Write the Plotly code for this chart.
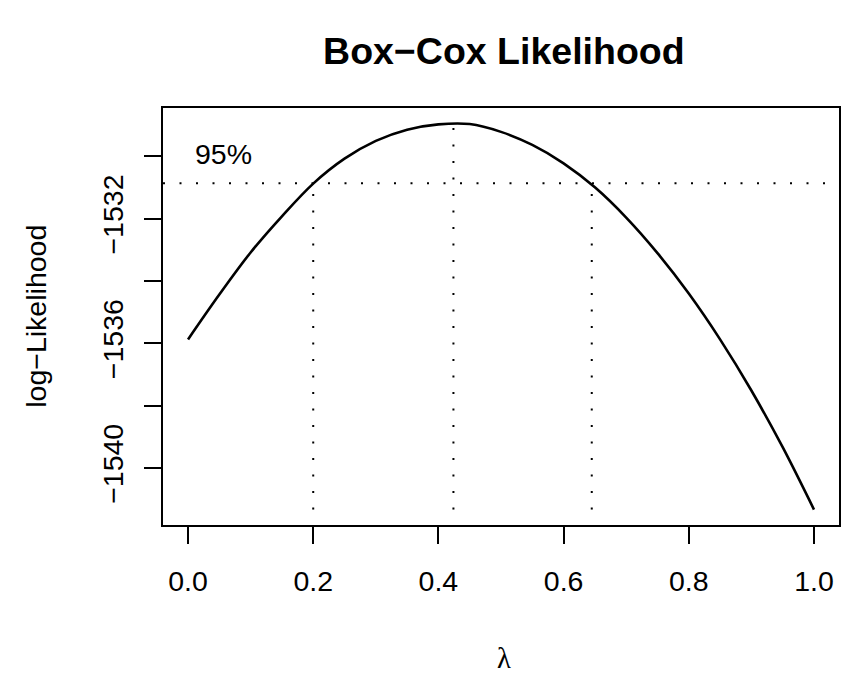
import plotly.graph_objects as go

# ---- data ----
lam = [0.00, 0.05, 0.10, 0.15, 0.20, 0.25, 0.30, 0.35, 0.40, 0.45,
       0.50, 0.55, 0.60, 0.65, 0.70, 0.75, 0.80, 0.85, 0.90, 0.95, 1.00]
loglik = [-1535.87, -1534.43, -1533.08, -1531.92, -1530.87, -1530.07, -1529.50,
          -1529.14, -1528.97, -1528.96, -1529.21, -1529.63, -1530.22, -1530.99,
          -1531.96, -1533.10, -1534.40, -1535.87, -1537.51, -1539.33, -1541.33]

lam_hat = 0.424
loglik_max = -1528.94
ci_lower = 0.200
ci_upper = 0.645
lim_95 = -1530.86

x_tickvals = [0.0, 0.2, 0.4, 0.6, 0.8, 1.0]
x_ticktext = ["0.0", "0.2", "0.4", "0.6", "0.8", "1.0"]
y_tickvals = [-1540, -1538, -1536, -1534, -1532, -1530]
y_ticktext = ["\u22121540", "", "\u22121536", "", "\u22121532", ""]

ymin_data = min(loglik)
ymax_data = loglik_max
pad_y = 0.04 * (ymax_data - ymin_data)

font = "Liberation Sans, Arial, Helvetica, sans-serif"
fs = 28.5
dot = dict(color="black", width=2, dash="2px,14.5px")

fig = go.Figure()
fig.add_trace(go.Scatter(x=lam, y=loglik, mode="lines",
                         line=dict(color="black", width=2.6, shape="spline", smoothing=1.0),
                         hoverinfo="skip"))
for xv, top in [(ci_lower, lim_95), (lam_hat, loglik_max), (ci_upper, lim_95)]:
    fig.add_trace(go.Scatter(x=[xv, xv], y=[ymin_data, top], mode="lines",
                             line=dot, hoverinfo="skip"))

fig.add_shape(type="line", xref="paper", x0=0, x1=1, yref="y", y0=lim_95, y1=lim_95,
              line=dot)

fig.add_annotation(x=0.008, y=lim_95 + 0.95, xref="x", yref="y", text="95%",
                   showarrow=False, xanchor="left", yanchor="middle",
                   font=dict(family=font, size=fs, color="black"))

fig.add_annotation(x=0.505, y=-0.319, xref="paper", yref="paper", text="λ",
                   showarrow=False, xanchor="center", yanchor="middle",
                   font=dict(family="Liberation Serif, DejaVu Serif, serif", size=fs, color="black"))
fig.add_annotation(x=-0.189, y=0.5, xref="paper", yref="paper", text="log\u2212Likelihood",
                   showarrow=False, textangle=-90, xanchor="center", yanchor="middle",
                   font=dict(family=font, size=fs, color="black"))

fig.update_layout(
    width=852, height=681,
    margin=dict(l=155, r=21, t=100, b=164),
    paper_bgcolor="white", plot_bgcolor="white",
    showlegend=False,
    title=dict(text="<b>Box\u2212Cox Likelihood</b>", x=0.582, xanchor="center",
               y=0.937, yanchor="middle", yref="container",
               font=dict(family=font, size=37.5, color="black")),
    font=dict(family=font, size=fs, color="black"),
)
fig.update_xaxes(range=[-0.04, 1.04], tickvals=x_tickvals, ticktext=x_ticktext,
                 showgrid=False, zeroline=False, showline=True, mirror=True,
                 linecolor="black", linewidth=2.2, ticks="outside", ticklen=17,
                 tickwidth=2.2, tickcolor="black", ticklabelstandoff=13,
                 tickfont=dict(family=font, size=fs, color="black"))
fig.update_yaxes(range=[ymin_data - pad_y, ymax_data + pad_y], tickvals=y_tickvals,
                 ticktext=y_ticktext, showgrid=False, zeroline=False, showline=True,
                 mirror=True, linecolor="black", linewidth=2.2, ticks="outside",
                 ticklen=17, tickwidth=2.2, tickcolor="black", tickangle=-90,
                 ticklabelstandoff=10,
                 tickfont=dict(family=font, size=fs, color="black"))

fig.write_html("out.html")
